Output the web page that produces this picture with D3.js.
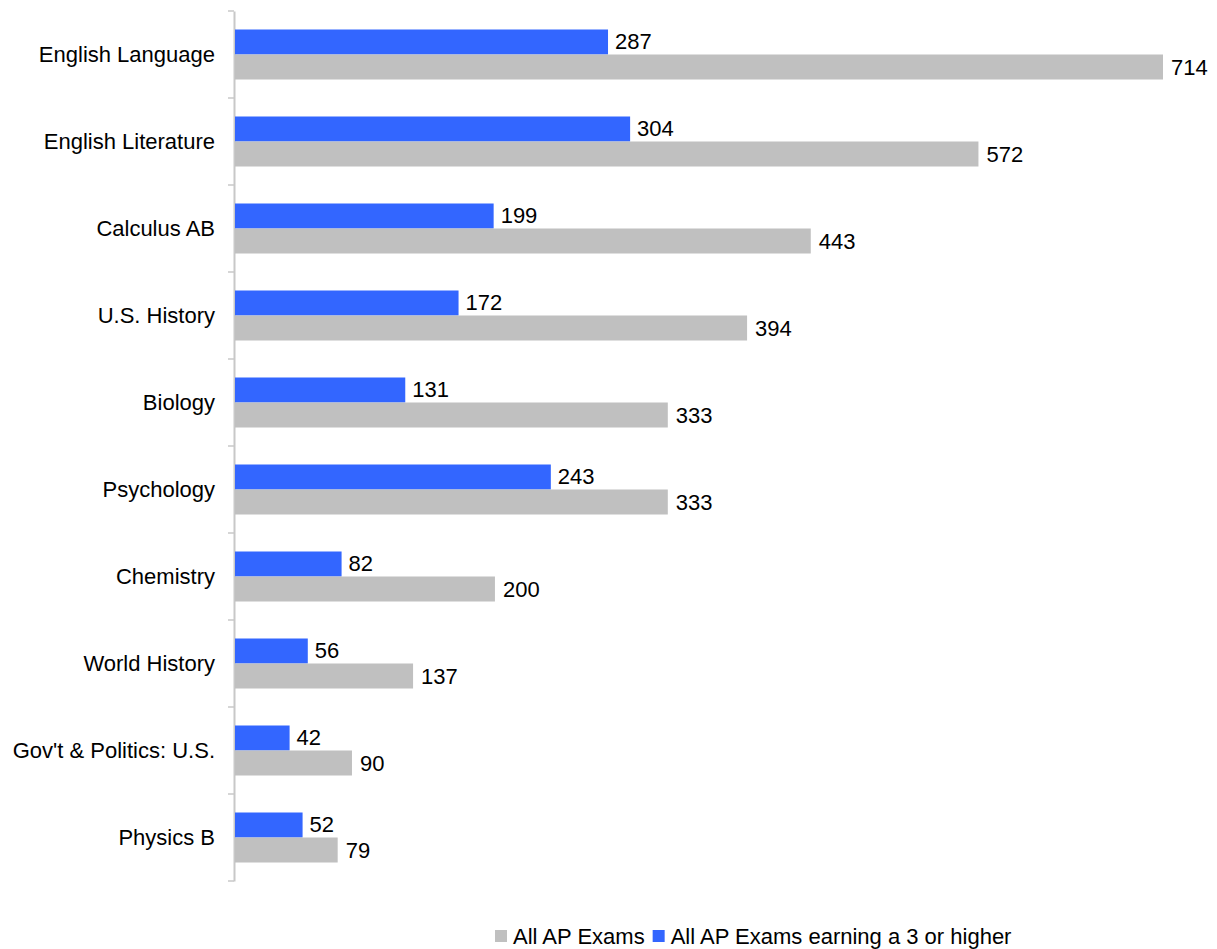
<!DOCTYPE html>
<html><head><meta charset="utf-8">
<script src="https://cdn.jsdelivr.net/npm/d3@7"></script>
<style>body{margin:0;background:#fff}svg{display:block}text{font-family:"Liberation Sans",Arial,sans-serif;fill:#000}</style>
</head><body><svg id="c" width="1217" height="949"></svg>
<script>
const categories = ["English Language","English Literature","Calculus AB","U.S. History","Biology","Psychology","Chemistry","World History","Gov't & Politics: U.S.","Physics B"];
const allExams = [714,572,443,394,333,333,200,137,90,79];
const passExams = [287,304,199,172,131,243,82,56,42,52];
const seriesNames = ["All AP Exams","All AP Exams earning a 3 or higher"];
const colors = ["#C0C0C0","#3366FF"];

const svg = d3.select("#c");
const x0 = 235, y0 = 11, y1 = 881;
const x = d3.scaleLinear().domain([0,714]).range([x0,1163]);
const y = d3.scaleBand().domain(categories).range([y0,y1]).padding(0);
const bw = 25;
const fs = 22;

// axis
const ax = svg.append("g").attr("transform",`translate(${x0-1},0)`)
  .call(d3.axisLeft(y).tickSize(0).tickFormat(""));
ax.select(".domain").attr("stroke","#c8c8c8").attr("stroke-width",2);
const bounds = categories.map(c=>y(c)).concat([y1]);
svg.append("g").selectAll("line").data(bounds).join("line")
  .attr("x1",x0-7).attr("x2",x0-1).attr("y1",d=>d).attr("y2",d=>d)
  .attr("stroke","#c8c8c8").attr("stroke-width",1.5);

// category labels
svg.append("g").selectAll("text").data(categories).join("text")
  .attr("x",215).attr("y",d=>y(d)+y.bandwidth()/2+7.5)
  .attr("text-anchor","end").attr("font-size",fs).text(d=>d);

const g = svg.append("g");
categories.forEach((c,i)=>{
  const mid = y(c)+y.bandwidth()/2;
  g.append("rect").attr("x",x(0)).attr("y",mid-bw).attr("width",x(passExams[i])-x(0)).attr("height",bw).attr("fill",colors[1]);
  g.append("rect").attr("x",x(0)).attr("y",mid).attr("width",x(allExams[i])-x(0)).attr("height",bw).attr("fill",colors[0]);
  g.append("text").attr("x",x(passExams[i])+7).attr("y",mid-bw/2+7).attr("font-size",fs).text(passExams[i]);
  g.append("text").attr("x",x(allExams[i])+8).attr("y",mid+bw/2+8).attr("font-size",fs).text(allExams[i]);
});

// legend
const leg = svg.append("g");
let lx = 495;
seriesNames.forEach((n,i)=>{
  leg.append("rect").attr("x",lx).attr("y",930).attr("width",12).attr("height",12).attr("fill",colors[i]);
  const t = leg.append("text").attr("x",lx+18).attr("y",943.5).attr("font-size",fs).text(n);
  lx = lx + 18 + t.node().getComputedTextLength() + 8;
});
</script></body></html>
